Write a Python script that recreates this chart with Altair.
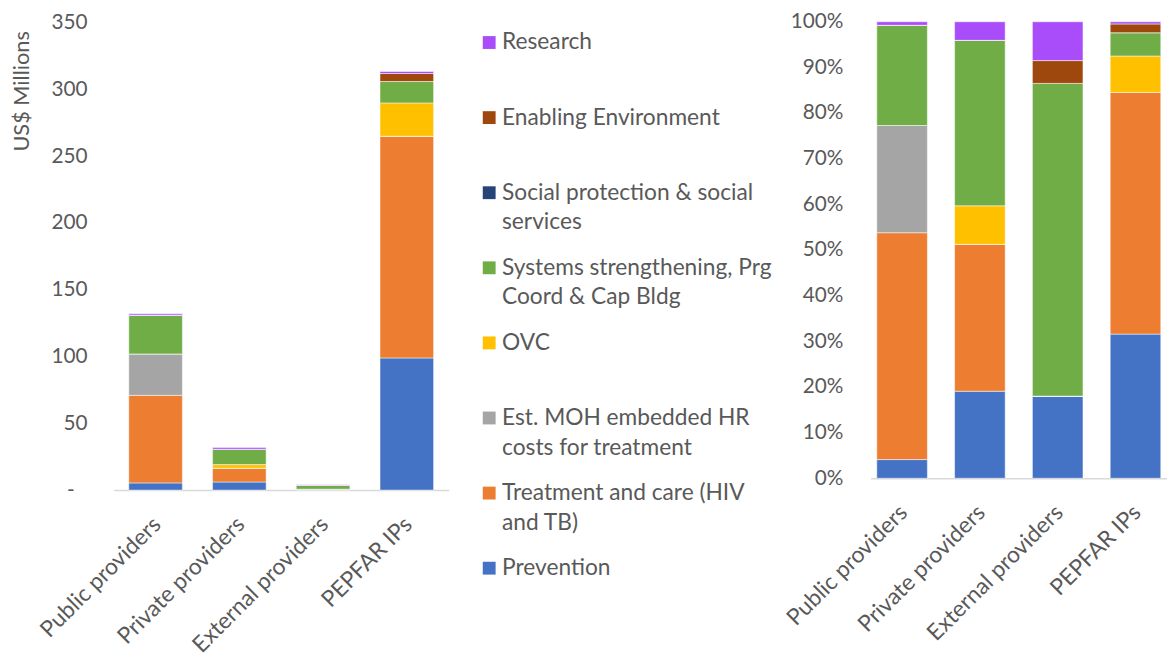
import altair as alt
import pandas as pd

providers = ["Public providers", "Private providers", "External providers", "PEPFAR IPs"]
series = [
    "Prevention",
    "Treatment and care (HIV and TB)",
    "Est. MOH embedded HR costs for treatment",
    "OVC",
    "Systems strengthening, Prg Coord & Cap Bldg",
    "Social protection & social services",
    "Enabling Environment",
    "Research",
]
colors = ["#4472C4", "#ED7D31", "#A5A5A5", "#FFC000", "#70AD47", "#264478", "#9E480E", "#A94CF9"]

# US$ Millions per provider (Public, Private, External, PEPFAR IPs)
prevention = [5.4, 6.1, 0.72, 99.0]
treatment = [65.6, 10.3, 0.0, 166.0]
est_moh = [31.0, 0.0, 0.0, 0.0]
ovc = [0.0, 2.7, 0.0, 25.0]
systems = [29.0, 11.6, 2.74, 16.0]
social = [0.0, 0.0, 0.0, 0.0]
enabling = [0.0, 0.0, 0.2, 6.0]
research = [1.0, 1.3, 0.34, 1.5]

legend_series = [
    "Research",
    "Enabling Environment",
    "Social protection & social services",
    "Systems strengthening, Prg Coord & Cap Bldg",
    "OVC",
    "Est. MOH embedded HR costs for treatment",
    "Treatment and care (HIV and TB)",
    "Prevention",
]
legend_labels = [
    "Research",
    "Enabling Environment",
    "Social protection & social\nservices",
    "Systems strengthening, Prg\nCoord & Cap Bldg",
    "OVC",
    "Est. MOH embedded HR\ncosts for treatment",
    "Treatment and care (HIV\nand TB)",
    "Prevention",
]

values_by_series = [prevention, treatment, est_moh, ovc, systems, social, enabling, research]
rows = []
for si, (s, vals) in enumerate(zip(series, values_by_series)):
    for p, v in zip(providers, vals):
        rows.append({"provider": p, "series": s, "value": v, "idx": si})
df = pd.DataFrame(rows)

FONT = "Lato"
TXT = "#595959"
AXIS_LINE = "#D9D9D9"

PTOP = 19  # expected page y of plot tops
H_LEFT = 493 - PTOP
H_RIGHT = 481 - PTOP
LEFT_MAX = 350 * H_LEFT / (493 - 20)

color_enc = alt.Color("series:N", scale=alt.Scale(domain=series, range=colors), legend=None)
order_enc = alt.Order("idx:Q", sort="ascending")


def x_axis():
    return alt.Axis(
        title=None, labelAngle=-45, labelAlign="right", labelBaseline="top",
        labelPadding=23, labelOffset=-6, ticks=False, domainColor=AXIS_LINE,
        domainWidth=1.5, labelFontSize=23, labelColor=TXT, labelFont=FONT,
        labelLimit=300,
    )


left = alt.Chart(df).mark_bar(stroke="white", strokeWidth=0.5).encode(
    x=alt.X("provider:N", sort=providers,
            scale=alt.Scale(paddingInner=0.36, paddingOuter=0.18), axis=x_axis()),
    y=alt.Y("value:Q", stack="zero",
            scale=alt.Scale(domain=[0, LEFT_MAX], nice=False),
            axis=alt.Axis(
                title="US$ Millions", values=[0, 50, 100, 150, 200, 250, 300, 350],
                labelExpr="datum.value == 0 ? '-' : datum.label",
                labelPadding={"condition": {"test": "datum.value == 0", "value": 40},
                              "value": 27},
                grid=False, domain=False, ticks=False,
                labelFontSize=21, labelColor=TXT, labelFont=FONT,
                titlePadding=18, titleFontSize=22, titleFontWeight="normal",
                titleColor=TXT, titleFont=FONT, titleAnchor="end",
                titleAlign="right", titleY=28 - PTOP,
            )),
    color=color_enc,
    order=order_enc,
).properties(width=339, height=H_LEFT)

leg_df = pd.DataFrame({"series": legend_series, "label": legend_labels,
                       "pos": list(range(len(legend_series)))})
pos_scale = alt.Scale(domain=[0, 7], range=[40 - PTOP, 572 - PTOP])
squares = alt.Chart(leg_df).mark_square(size=169, opacity=1).encode(
    x=alt.value(7),
    y=alt.Y("pos:Q", scale=pos_scale, axis=None),
    color=alt.Color("series:N", scale=alt.Scale(domain=series, range=colors), legend=None),
)
texts = alt.Chart(leg_df).mark_text(
    align="left", baseline="alphabetic", dy=7, lineBreak="\n", lineHeight=30,
    fontSize=23, font=FONT, color=TXT,
).encode(
    x=alt.value(20),
    y=alt.Y("pos:Q", scale=pos_scale, axis=None),
    text="label:N",
)
legend = alt.layer(squares, texts).properties(width=359, height=H_LEFT)

right = alt.Chart(df).mark_bar(stroke="white", strokeWidth=0.5).encode(
    x=alt.X("provider:N", sort=providers,
            scale=alt.Scale(paddingInner=0.35, paddingOuter=0.08), axis=x_axis()),
    y=alt.Y("value:Q", stack="normalize",
            scale=alt.Scale(domain=[0, 1], nice=False),
            axis=alt.Axis(
                title=None, values=[i / 10 for i in range(11)], format=".0%",
                grid=False, domain=False, ticks=False, labelPadding=28,
                labelFontSize=21, labelColor=TXT, labelFont=FONT,
            )),
    color=color_enc,
    order=order_enc,
).properties(width=300, height=H_RIGHT)

chart = alt.hconcat(left, legend, right, spacing=34, bounds="flush").resolve_scale(
    x="independent", y="independent"
).properties(
    padding={"left": 2, "top": -1, "right": 0, "bottom": 0},
    background="white",
).configure_view(stroke=None)

chart.save("out.html", embed_options={"renderer": "svg", "actions": False})
